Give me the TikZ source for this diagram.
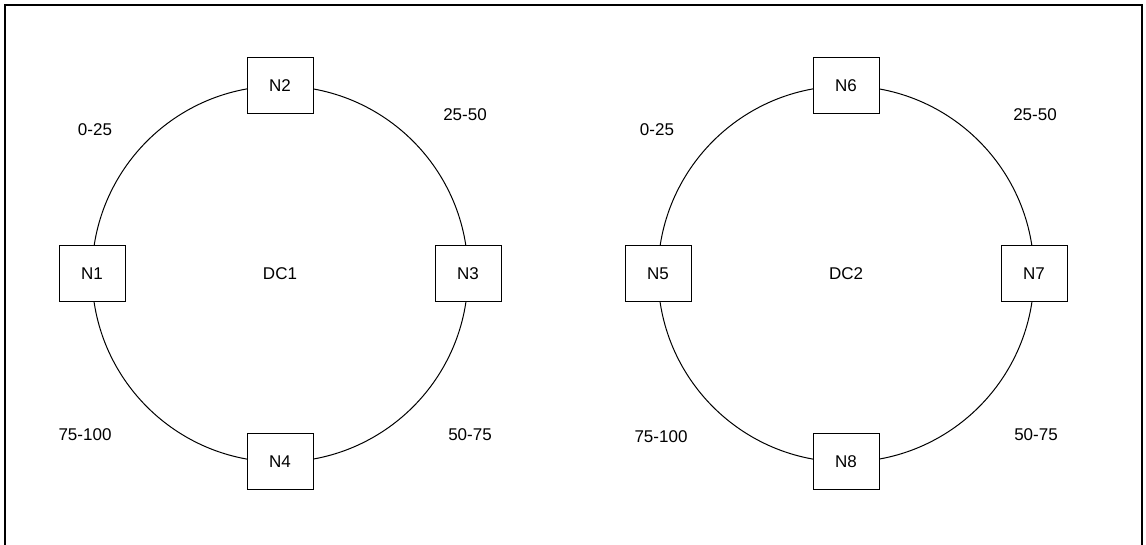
\documentclass[tikz,border=0pt]{standalone}
\usepackage{fontspec}
\setmainfont{Liberation Sans}
\usetikzlibrary{positioning}

\begin{document}
\begin{tikzpicture}[x=0.75pt,y=0.75pt,
    main/.style = {draw, fill=white, line width=0.75pt, minimum width=49.5pt, minimum height=42pt, inner sep=0pt},
    lbl/.style = {inner sep=0pt},
    ring/.style = {line width=0.75pt},
    every node/.style = {font=\fontsize{12.75}{15}\selectfont}]
    \useasboundingbox (0,-271) rectangle (1146,274);
    % frame, open at the bottom
    \draw[line width=1.9pt] (5,-275) -- (5,269) -- (1142,269) -- (1142,-275);

    % DC1
    \node[lbl] (dc1) at (280,0) {DC1};
    \draw[ring] (dc1.center) circle[radius=188];
    \node[main] (1) at (92,0) {N1};
    \node[main] (2) at (280,188) {N2};
    \node[main] (3) at (468,0) {N3};
    \node[main] (4) at (280,-188) {N4};
    \node[lbl] (r1a) at (95,144) {0-25};
    \node[lbl] (r1b) at (465,159) {25-50};
    \node[lbl] (r1c) at (470,-161) {50-75};
    \node[lbl] (r1d) at (85,-161) {75-100};

    % DC2
    \node[lbl] (dc2) at (846,0) {DC2};
    \draw[ring] (dc2.center) circle[radius=188];
    \node[main] (5) at (658,0) {N5};
    \node[main] (6) at (846,188) {N6};
    \node[main] (7) at (1034,0) {N7};
    \node[main] (8) at (846,-188) {N8};
    \node[lbl] (r2a) at (657,144) {0-25};
    \node[lbl] (r2b) at (1035,159) {25-50};
    \node[lbl] (r2c) at (1036,-161) {50-75};
    \node[lbl] (r2d) at (661,-163) {75-100};
\end{tikzpicture}
\end{document}
